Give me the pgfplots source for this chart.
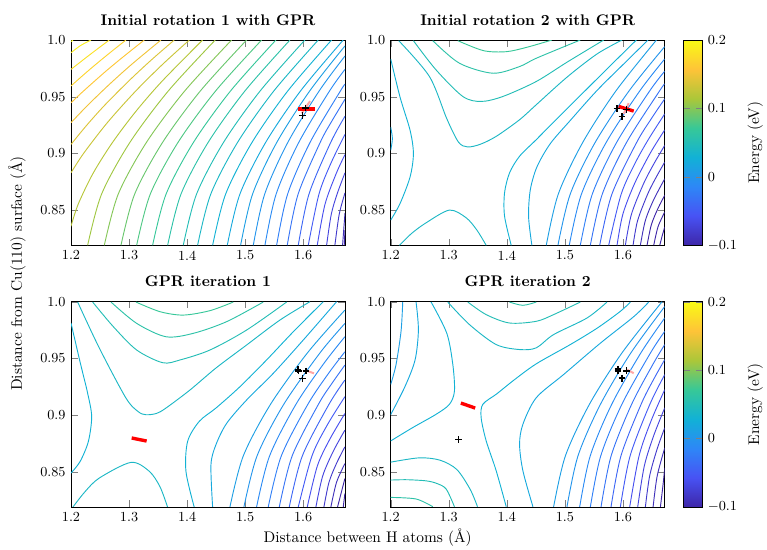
\documentclass[border=0pt]{standalone}
\usepackage{pgfplots}
\pgfplotsset{compat=1.18}
\pgfplotsset{colormap={parula}{rgb=(0.2422,0.1504,0.6603) rgb=(0.2810,0.3228,0.9579) rgb=(0.1786,0.5289,0.9682) rgb=(0.0689,0.6948,0.8394) rgb=(0.2161,0.7843,0.5923) rgb=(0.6720,0.7793,0.2227) rgb=(0.9970,0.7659,0.2199) rgb=(0.9769,0.9839,0.0805)}}
\pgfplotsset{
  panel/.style={
    scale only axis, width=178.1pt, height=133.4pt,
    xmin=1.2, xmax=1.672, ymin=0.819, ymax=1.0,
    xtick={1.2,1.3,1.4,1.5,1.6}, xticklabels={1.2,1.3,1.4,1.5,1.6},
    ytick={0.85,0.9,0.95,1.0}, yticklabels={0.85,0.9,0.95,1.0},
    tick label style={font=\small},
    title style={font=\bfseries},
    colormap name=parula, point meta min=-0.1, point meta max=0.2,
    anchor=north west,
  },
  cbar/.style={
    colorbar shift/.style={xshift=12.1pt},
    colorbar,
    colorbar style={at={(parent axis.north east)}, anchor=north west, width=12.35pt,
      ytick={-0.1,0,0.1,0.2}, yticklabel style={font=\small}, ylabel={Energy (eV)}},
  },
  ctr/.style={smooth, no markers, line width=0.6pt},
}
\newcommand{\ct}[2]{\addplot[ctr, color of colormap={#1}] coordinates {#2};}
\begin{document}
\begin{tikzpicture}
\useasboundingbox (0,0) rectangle (498.55pt,-356.85pt);
% ---------------- TL
\begin{axis}[panel, at={(46.15pt,-26pt)}, title={Initial rotation 1 with GPR}]
\ct{1000}{(1.2,0.9985) (1.2035,1.0)}
\ct{966.7}{(1.2,0.9888) (1.2161,0.995) (1.2344,1.0)}
\ct{933.3}{(1.2,0.9741) (1.2331,0.9873) (1.2660,1.0)}
\ct{900}{(1.2,0.9595) (1.2214,0.9692) (1.2422,0.9783) (1.2679,0.9891) (1.2947,1.0)}
\ct{866.7}{(1.2,0.9446) (1.2211,0.9548) (1.2610,0.9729) (1.2951,0.9873) (1.3263,1.0)}
\ct{833.3}{(1.2,0.9271) (1.2281,0.9421) (1.2647,0.9602) (1.3040,0.9783) (1.3550,1.0)}
\ct{800}{(1.2,0.9079) (1.2257,0.924) (1.2573,0.9421) (1.2994,0.9638) (1.3373,0.9819) (1.3779,1.0)}
\ct{766.7}{(1.2,0.8829) (1.2224,0.9005) (1.2634,0.9276) (1.3111,0.9548) (1.3573,0.9783) (1.4038,1.0)}
\ct{733.3}{(1.2,0.8358) (1.2124,0.8552) (1.2380,0.8824) (1.2713,0.9095) (1.3112,0.9367) (1.3571,0.9638) (1.4267,1.0)}
\ct{700}{(1.2287,0.819) (1.2526,0.864) (1.3012,0.9095) (1.3675,0.955) (1.4485,1.0)}
\ct{666.7}{(1.2574,0.819) (1.2813,0.864) (1.3297,0.9095) (1.3958,0.955) (1.4767,1.0)}
\ct{633.3}{(1.2861,0.819) (1.3096,0.864) (1.3575,0.9095) (1.4227,0.955) (1.5025,1.0)}
\ct{600}{(1.3131,0.819) (1.3365,0.864) (1.3841,0.9095) (1.4490,0.955) (1.5284,1.0)}
\ct{566.7}{(1.3406,0.819) (1.3637,0.864) (1.4107,0.9095) (1.4747,0.955) (1.5530,1.0)}
\ct{533.3}{(1.3665,0.819) (1.3894,0.864) (1.4360,0.9095) (1.4995,0.955) (1.5772,1.0)}
\ct{500}{(1.3934,0.819) (1.4162,0.864) (1.4625,0.9095) (1.5257,0.955) (1.6029,1.0)}
\ct{466.7}{(1.4181,0.819) (1.4407,0.864) (1.4867,0.9095) (1.5493,0.955) (1.6259,1.0)}
\ct{433.3}{(1.4440,0.819) (1.4663,0.864) (1.5116,0.9095) (1.5733,0.955) (1.6489,1.0)}
\ct{400}{(1.4692,0.819) (1.4909,0.864) (1.5351,0.9095) (1.5953,0.955) (1.6690,1.0)}
\ct{366.7}{(1.4922,0.819) (1.5127,0.864) (1.5543,0.9095) (1.6111,0.955) (1.672,0.9948)}
\ct{333.3}{(1.5140,0.819) (1.5336,0.864) (1.5733,0.9095) (1.6274,0.955) (1.672,0.9859)}
\ct{300}{(1.5341,0.819) (1.5533,0.864) (1.5922,0.9095) (1.6453,0.955) (1.672,0.9741)}
\ct{266.7}{(1.5542,0.819) (1.5731,0.864) (1.6116,0.9095) (1.6640,0.955) (1.672,0.9609)}
\ct{233.3}{(1.5725,0.819) (1.5912,0.864) (1.6291,0.9095) (1.6483,0.9276) (1.672,0.9477)}
\ct{200}{(1.5915,0.819) (1.6099,0.864) (1.6472,0.9095) (1.672,0.9328)}
\ct{166.7}{(1.6087,0.819) (1.6271,0.864) (1.6478,0.8914) (1.672,0.9167)}
\ct{133.3}{(1.6242,0.819) (1.6376,0.8552) (1.6570,0.8824) (1.672,0.899)}
\ct{100}{(1.6403,0.819) (1.6483,0.8462) (1.6585,0.8643) (1.672,0.8829)}
\ct{66.7}{(1.6546,0.819) (1.6620,0.8462) (1.672,0.8652)}
\ct{33.3}{(1.6678,0.819) (1.6700,0.834) (1.672,0.8476)}
\ct{0}{(1.6707,0.819) (1.672,0.8328)}
\addplot[red!35, line width=1.3pt] coordinates {(1.5975,0.9353) (1.6118,0.9461)};
\addplot[red, line width=2.2pt] coordinates {(1.5917,0.9393) (1.6204,0.9393)};
\addplot[only marks, mark=+, mark size=2.2pt, black, line width=0.9pt] coordinates {(1.6043,0.94) (1.5985,0.9335)};
\end{axis}
% ---------------- TR
\begin{axis}[panel, cbar, at={(253.96pt,-26pt)}, title={Initial rotation 2 with GPR}]
\ct{433.3}{(1.2,0.9833) (1.2161,0.9496) (1.2334,0.9203) (1.2391,0.8998) (1.2334,0.8793) (1.2161,0.8558) (1.2,0.8412)}
\ct{400}{(1.2,0.9232) (1.2029,0.913) (1.2,0.9027)}
\ct{466.7}{(1.2150,0.8189) (1.2362,0.8295) (1.2610,0.8388) (1.3012,0.85) (1.3300,0.8432) (1.3484,0.8324) (1.3645,0.8189)}
\ct{466.7}{(1.2138,0.9994) (1.2667,0.9678) (1.2966,0.9306) (1.3167,0.9100) (1.3323,0.9057) (1.3541,0.9080) (1.3817,0.9150) (1.4220,0.9297) (1.4507,0.9429) (1.5036,0.9672) (1.5554,0.9877) (1.5985,1.0)}
\ct{500}{(1.2391,0.9994) (1.2782,0.9736) (1.3242,0.9502) (1.3558,0.9458) (1.3932,0.9502) (1.4507,0.9634) (1.5036,0.9804) (1.5669,1.0)}
\ct{533.3}{(1.2725,0.9994) (1.3185,0.9795) (1.3760,0.9707) (1.4220,0.9766) (1.4507,0.9839) (1.5266,1.0)}
\ct{566.7}{(1.3156,0.9994) (1.3599,0.9906) (1.3990,0.9897) (1.4347,0.9936) (1.4777,1.0)}
\ct{433.3}{(1.4076,0.8189) (1.3961,0.8447) (1.3961,0.8652) (1.4047,0.8828) (1.4220,0.8975) (1.4507,0.9121) (1.4864,0.9306) (1.5324,0.9540) (1.5784,0.9774) (1.6232,1.0)}
\ct{400}{(1.4432,0.8189) (1.4375,0.8441) (1.4404,0.8676) (1.4519,0.8881) (1.4749,0.9086) (1.5094,0.9291) (1.5554,0.9555) (1.6014,0.9789) (1.6433,1.0)}
\ct{366.7}{(1.4680,0.819) (1.4886,0.864) (1.5306,0.9095) (1.5878,0.955) (1.6578,1.0)}
\ct{333.3}{(1.4881,0.819) (1.5092,0.864) (1.5520,0.9095) (1.6104,0.955) (1.672,0.9942)}
\ct{300}{(1.5076,0.819) (1.5285,0.864) (1.5710,0.9095) (1.6289,0.955) (1.672,0.9833)}
\ct{266.7}{(1.5266,0.819) (1.5472,0.864) (1.5890,0.9095) (1.6460,0.955) (1.672,0.9725)}
\ct{233.3}{(1.5439,0.819) (1.5644,0.864) (1.6061,0.9095) (1.6630,0.955) (1.672,0.9613)}
\ct{200}{(1.5600,0.819) (1.5810,0.864) (1.6235,0.9095) (1.6497,0.9312) (1.672,0.9481)}
\ct{166.7}{(1.5755,0.819) (1.5970,0.864) (1.6210,0.8914) (1.6448,0.9131) (1.672,0.9348)}
\ct{133.3}{(1.5899,0.819) (1.5998,0.8462) (1.6200,0.8733) (1.6474,0.9005) (1.672,0.9207)}
\ct{100}{(1.6042,0.819) (1.6146,0.8462) (1.6356,0.8733) (1.6540,0.8914) (1.672,0.907)}
\ct{66.7}{(1.6175,0.819) (1.6253,0.8407) (1.6428,0.8643) (1.6570,0.8787) (1.672,0.8923)}
\ct{33.3}{(1.6301,0.819) (1.6386,0.8407) (1.6527,0.8588) (1.672,0.8776)}
\ct{0}{(1.6416,0.819) (1.6490,0.8371) (1.6605,0.8516) (1.672,0.863)}
\ct{0}{(1.6531,0.819) (1.6605,0.8353) (1.672,0.8483)}
\ct{0}{(1.6635,0.819) (1.6675,0.827) (1.672,0.8351)}
\addplot[red!35, line width=1.3pt] coordinates {(1.6014,0.935) (1.61,0.9443)};
\addplot[red, line width=2.2pt] coordinates {(1.5927,0.9414) (1.6186,0.9373)};
\addplot[only marks, mark=+, mark size=2.2pt, black, line width=0.9pt] coordinates {(1.5899,0.9394) (1.606,0.9388) (1.5985,0.9326)};
\end{axis}
% ---------------- BL
\begin{axis}[panel, at={(46.15pt,-196.1pt)}, title={GPR iteration 1}]
\ct{433.3}{(1.2,0.9812) (1.2155,0.9471) (1.2287,0.9192) (1.2356,0.8986) (1.2298,0.8765) (1.2155,0.8589) (1.2,0.8489)}
\ct{466.7}{(1.2029,0.8186) (1.2241,0.8324) (1.2488,0.8445) (1.3033,0.8583) (1.3349,0.8504) (1.3533,0.8368) (1.3665,0.8186)}
\ct{466.7}{(1.2115,0.9997) (1.2488,0.9591) (1.2947,0.915) (1.3159,0.903) (1.3292,0.9003) (1.3475,0.9015) (1.3636,0.9062) (1.4049,0.9221) (1.4497,0.9415) (1.5025,0.9618) (1.5599,0.9838) (1.6116,1.0)}
\ct{500}{(1.2373,0.9997) (1.2729,0.978) (1.3131,0.9574) (1.3579,0.9462) (1.3877,0.9486) (1.4394,0.9574) (1.5025,0.975) (1.5714,0.9997)}
\ct{533.3}{(1.2689,0.9997) (1.3131,0.9809) (1.3636,0.9691) (1.4107,0.9721) (1.4681,0.9824) (1.5312,0.9997)}
\ct{566.7}{(1.3119,0.9997) (1.3533,0.9912) (1.3934,0.9882) (1.4394,0.9921) (1.4795,0.9997)}
\ct{433.3}{(1.4124,0.8186) (1.3980,0.8504) (1.4009,0.8768) (1.4210,0.8945) (1.4497,0.9062) (1.4910,0.925) (1.5369,0.9486) (1.5829,0.9735) (1.6345,1.0)}
\ct{400}{(1.4440,0.8186) (1.4411,0.8562) (1.4497,0.8739) (1.4681,0.8927) (1.5025,0.9133) (1.5484,0.9368) (1.6001,0.9662) (1.6575,1.0)}
\ct{366.7}{(1.4738,0.819) (1.4968,0.864) (1.5437,0.9095) (1.6075,0.955) (1.6718,0.9926)}
\ct{333.3}{(1.4979,0.819) (1.5205,0.864) (1.5665,0.9095) (1.6291,0.955) (1.6718,0.9808)}
\ct{300}{(1.5197,0.819) (1.5421,0.864) (1.5875,0.9095) (1.6358,0.9457) (1.6718,0.9691)}
\ct{266.7}{(1.5398,0.819) (1.5623,0.864) (1.6080,0.9095) (1.6435,0.9367) (1.6718,0.9558)}
\ct{233.3}{(1.5588,0.819) (1.5810,0.864) (1.6262,0.9095) (1.6490,0.9276) (1.6718,0.9441)}
\ct{200}{(1.5760,0.819) (1.5985,0.864) (1.6444,0.9095) (1.6718,0.9309)}
\ct{166.7}{(1.5915,0.819) (1.6151,0.864) (1.6416,0.8914) (1.6718,0.9162)}
\ct{133.3}{(1.6070,0.819) (1.6244,0.8552) (1.6458,0.8787) (1.6718,0.9014)}
\ct{100}{(1.6219,0.819) (1.6335,0.8462) (1.6516,0.8679) (1.6718,0.8867)}
\ct{66.7}{(1.6357,0.819) (1.6444,0.8407) (1.6570,0.857) (1.6718,0.872)}
\ct{33.3}{(1.6477,0.819) (1.6574,0.8407) (1.6718,0.8572)}
\ct{0}{(1.6592,0.819) (1.6665,0.8335) (1.6718,0.844)}
\ct{0}{(1.669,0.819) (1.6718,0.8308)}
\addplot[red, line width=2.2pt] coordinates {(1.3045,0.8798) (1.3303,0.8771)};
\addplot[red!35, line width=1.3pt] coordinates {(1.603,0.9397) (1.6185,0.9368)};
\addplot[only marks, mark=+, mark size=2.2pt, black, line width=0.9pt] coordinates {(1.5909,0.9403) (1.5915,0.9388) (1.6047,0.9388) (1.5984,0.9324)};
\end{axis}
% ---------------- BR
\begin{axis}[panel, cbar, at={(253.96pt,-196.1pt)}, title={GPR iteration 2}]
\ct{366.7}{(1.2207,0.9997) (1.2178,0.9739) (1.2092,0.9446) (1.2,0.927)}
\ct{400}{(1.2437,0.9997) (1.2477,0.9751) (1.2420,0.9487) (1.2247,0.9253) (1.2,0.9004)}
\ct{433.3}{(1.2696,0.9997) (1.2966,0.9722) (1.3070,0.9446) (1.3098,0.9212) (1.3012,0.9095) (1.2782,0.9007) (1.2380,0.889) (1.2,0.8772)}
\ct{466.7}{(1.2983,0.9997) (1.3357,0.9798) (1.3817,0.9622) (1.4220,0.9578) (1.4507,0.9593) (1.4806,0.971) (1.5381,0.9856) (1.5726,0.9997)}
\ct{500}{(1.3328,0.9997) (1.3645,0.9886) (1.4047,0.9812) (1.4507,0.9827) (1.4806,0.9886) (1.5266,0.9997)}
\ct{533.3}{(1.4047,0.9997) (1.4277,0.9968) (1.4507,0.9997)}
\ct{433.3}{(1.3990,0.8192) (1.3817,0.8509) (1.3645,0.8772) (1.3558,0.8977) (1.3587,0.9095) (1.3829,0.9188) (1.4116,0.9306) (1.4507,0.9452) (1.5094,0.9622) (1.5554,0.9766) (1.5956,0.9915) (1.6129,0.9997)}
\ct{400}{(1.4450,0.8192) (1.4277,0.8509) (1.4220,0.8743) (1.4277,0.8919) (1.4507,0.9153) (1.4979,0.9358) (1.5611,0.9634) (1.6186,0.9868) (1.6445,0.9997)}
\ct{366.7}{(1.4806,0.819) (1.5009,0.864) (1.5423,0.9095) (1.5986,0.955) (1.6675,1.0)}
\ct{333.3}{(1.5036,0.819) (1.5226,0.864) (1.5613,0.9095) (1.6139,0.955) (1.6721,0.9958)}
\ct{300}{(1.5255,0.819) (1.5437,0.864) (1.5807,0.9095) (1.6311,0.955) (1.6721,0.9857)}
\ct{266.7}{(1.5439,0.819) (1.5618,0.864) (1.5982,0.9095) (1.6477,0.955) (1.6721,0.9739)}
\ct{233.3}{(1.5623,0.819) (1.5797,0.864) (1.6150,0.9095) (1.6527,0.9457) (1.6721,0.9622)}
\ct{200}{(1.5795,0.819) (1.5966,0.864) (1.6313,0.9095) (1.6526,0.9312) (1.6721,0.949)}
\ct{166.7}{(1.5956,0.819) (1.6124,0.864) (1.6464,0.9095) (1.6721,0.9357)}
\ct{133.3}{(1.6117,0.819) (1.6278,0.864) (1.6486,0.895) (1.6721,0.9225)}
\ct{100}{(1.6255,0.819) (1.6369,0.8552) (1.6534,0.8824) (1.6721,0.9064)}
\ct{66.7}{(1.6387,0.819) (1.6460,0.8462) (1.6587,0.8697) (1.6721,0.8889)}
\ct{33.3}{(1.6520,0.819) (1.6590,0.8462) (1.6721,0.8711)}
\ct{0}{(1.6646,0.819) (1.6690,0.838) (1.6721,0.8536)}
\ct{466.7}{(1.2,0.8585) (1.2495,0.8623) (1.2851,0.8602) (1.3139,0.852) (1.3369,0.8345) (1.3495,0.8192)}
\ct{500}{(1.2,0.8427) (1.2276,0.843) (1.261,0.842) (1.2794,0.8397) (1.2955,0.8348) (1.3098,0.8192)}
\ct{533.3}{(1.2,0.8274) (1.2437,0.826) (1.2725,0.8192)}
\addplot[red, line width=2.2pt] coordinates {(1.3208,0.9106) (1.3455,0.9062)};
\addplot[red!35, line width=1.3pt] coordinates {(1.6071,0.94) (1.6186,0.937)};
\addplot[only marks, mark=+, mark size=2.2pt, black, line width=0.9pt] coordinates {(1.5916,0.9405) (1.5916,0.939) (1.606,0.939) (1.5985,0.9326) (1.3167,0.8784)};
\end{axis}
\node[rotate=90] at (11.05pt,-177.8pt) {Distance from Cu(110) surface (\AA)};
\node at (238.9pt,-349.7pt) {Distance between H atoms (\AA)};
\end{tikzpicture}
\end{document}
